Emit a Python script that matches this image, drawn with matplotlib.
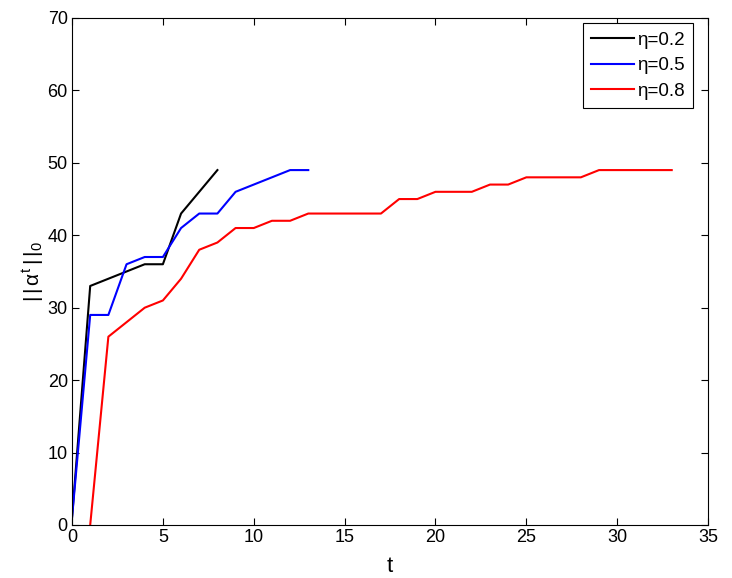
import numpy as np
import matplotlib
matplotlib.use('Agg')
import matplotlib.pyplot as plt

plt.rcParams['font.family'] = ['Liberation Sans', 'DejaVu Sans']
plt.rcParams['mathtext.fontset'] = 'custom'
plt.rcParams['mathtext.rm'] = 'Liberation Sans'
plt.rcParams['mathtext.it'] = 'Liberation Sans'

# values
t_02 = np.arange(0, 9)
n_02 = [1, 33, 34, 35, 36, 36, 43, 46, 49]

t_05 = np.arange(0, 14)
n_05 = [1, 29, 29, 36, 37, 37, 41, 43, 43, 46, 47, 48, 49, 49]

t_08 = np.arange(1, 34)
n_08 = [0, 26, 28, 30, 31, 34, 38, 39, 41, 41, 42, 42, 43, 43, 43, 43, 43,
        45, 45, 46, 46, 46, 47, 47, 48, 48, 48, 48, 49, 49, 49, 49, 49]

labels = ['\u03b7=0.2', '\u03b7=0.5', '\u03b7=0.8']

fig = plt.figure(figsize=(7.32, 5.78), dpi=100)
ax = fig.add_axes([0.0984, 0.0917, 0.8689, 0.8772])

ax.plot(t_02, n_02, color='black', lw=1.5, label=labels[0])
ax.plot(t_05, n_05, color='blue', lw=1.5, label=labels[1])
ax.plot(t_08, n_08, color='red', lw=1.5, label=labels[2])

ax.set_xlim(0, 35)
ax.set_ylim(0, 70)
ax.set_xticks(np.arange(0, 36, 5))
ax.set_yticks(np.arange(0, 71, 10))
ax.tick_params(direction='in', top=True, right=True, labelsize=13, length=5, pad=3)
ax.set_xlabel('t', fontsize=16, labelpad=7)
ax.set_ylabel(r'$|\,|\,\alpha^{t}\,|\,|_{0}$', fontsize=15, labelpad=1)

leg = ax.legend(loc='upper right', bbox_to_anchor=(0.9764, 0.9901), borderaxespad=0,
                fontsize=13.5, fancybox=False, framealpha=1, edgecolor='black',
                handlelength=2.3, handletextpad=0.15, labelspacing=0.45,
                borderpad=0.45)
leg.get_frame().set_linewidth(0.8)

fig.savefig('out.png', dpi=100)
